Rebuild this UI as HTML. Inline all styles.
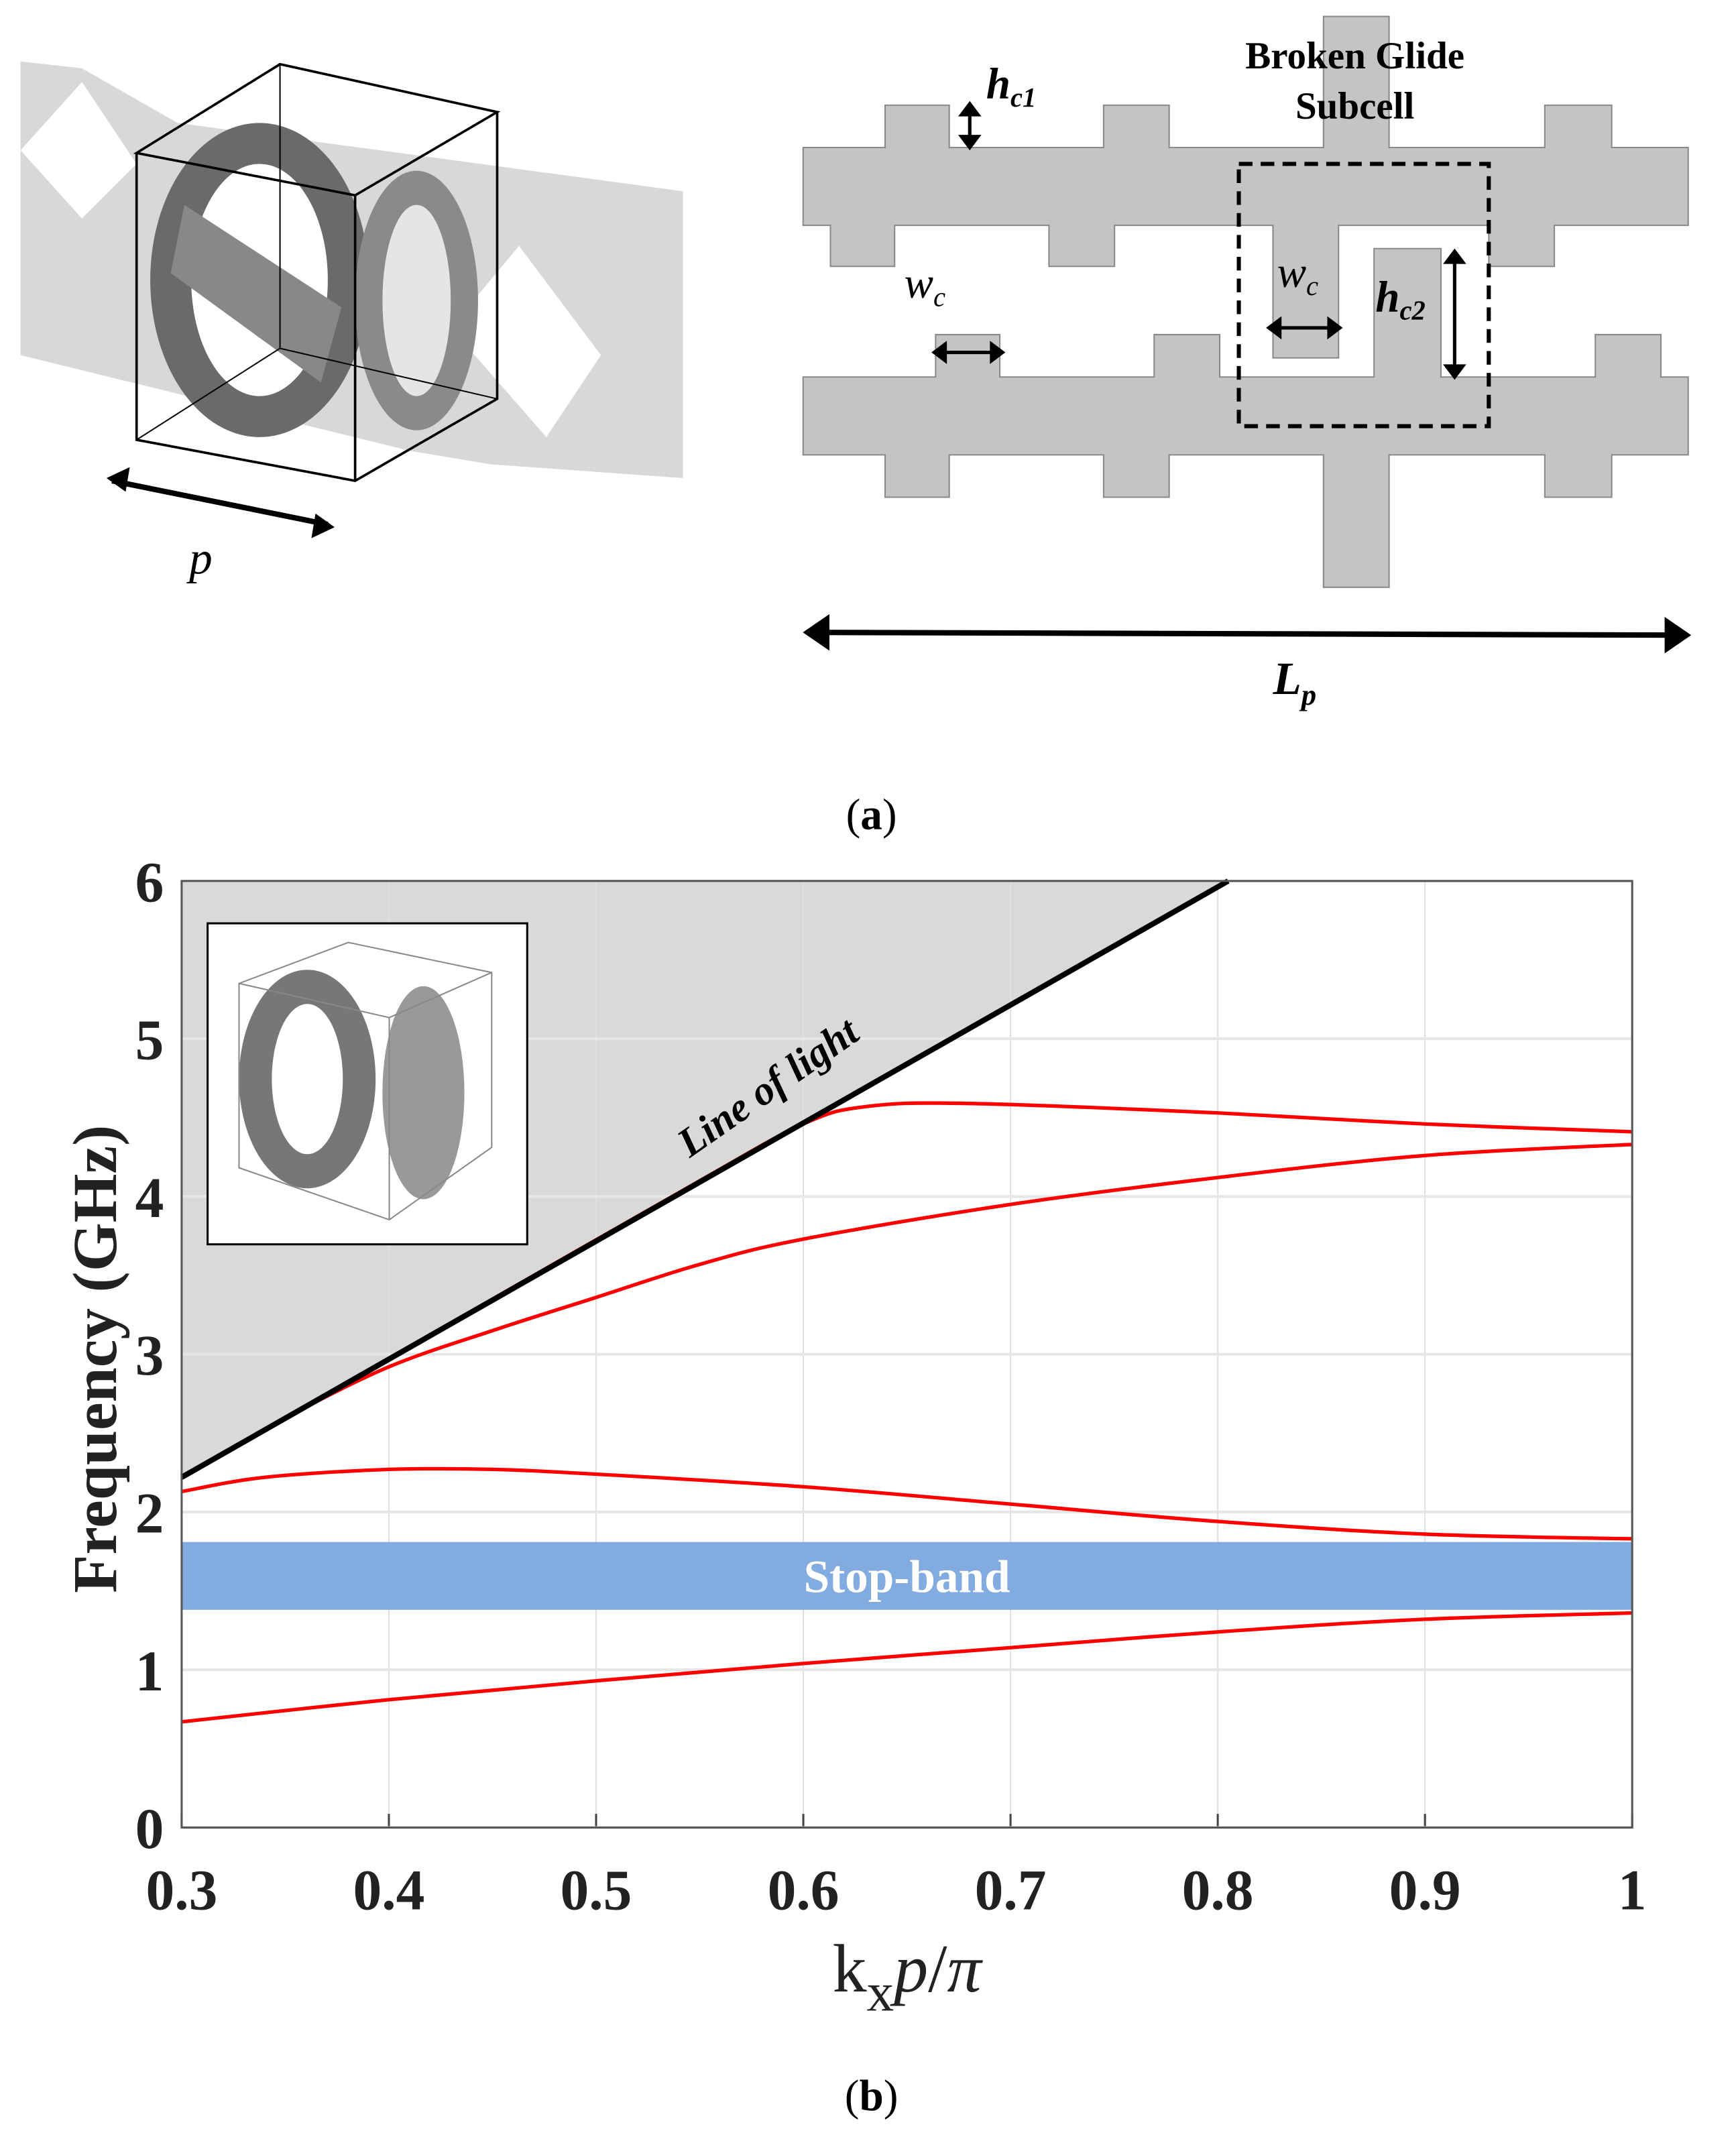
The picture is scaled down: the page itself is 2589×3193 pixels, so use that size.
<!DOCTYPE html>
<html><head><meta charset="utf-8"><style>
html,body{margin:0;padding:0;background:#fff;}
svg{display:block;}
text{font-family:"Liberation Serif",serif;}
</style></head><body>
<svg id="fig" width="2589" height="3193" viewBox="0 0 1271 1567.5" xmlns="http://www.w3.org/2000/svg">
<g>
  <path d="M15,45 L60,50 L130,90 L500,140 L500,350 L360,340 L300,330 L15,260 Z" fill="#d8d8d8"/>
  <path d="M60,60 L100,120 L60,160 L15,110 Z" fill="#fff"/>
  <path d="M380,180 L440,260 L400,320 L330,240 Z" fill="#fff"/>
  <ellipse cx="190" cy="205" rx="80" ry="115" fill="#6a6a6a"/>
  <ellipse cx="190" cy="205" rx="50" ry="85" fill="#fff"/>
  <path d="M135,150 L250,225 L235,280 L125,200 Z" fill="#888"/>
  <ellipse cx="305" cy="220" rx="45" ry="95" fill="#8a8a8a"/>
  <ellipse cx="305" cy="220" rx="25" ry="70" fill="#e5e5e5"/>
  <g fill="none" stroke="#000" stroke-width="1.8">
    <path d="M100,112 L205,47 L364,82 L260,143 Z"/>
    <path d="M100,112 L100,322 L260,352 L364,292 L364,82"/>
    <path d="M260,143 L260,352"/>
    <path d="M205,47 L205,255 L100,322" stroke-width="1"/>
    <path d="M205,255 L364,292" stroke-width="1"/>
  </g>
  <path d="M82,352 L240,384" stroke="#000" stroke-width="4"/>
  <path d="M78,350 L95,342 L92,360 Z M245,386 L228,394 L231,376 Z" fill="#000"/>
  <text x="147" y="420" font-size="34" font-style="italic" text-anchor="middle">p</text>
</g>
<g fill="#c4c4c4" stroke="#888" stroke-width="1">
  <path d="M588,108 L648,108 L648,77 L695,77 L695,108 L808,108 L808,77 L856,77 L856,108 L969,108 L969,12 L1017,12 L1017,108 L1131,108 L1131,77 L1180,77 L1180,108 L1236,108 L1236,165 L1138,165 L1138,195 L1090,195 L1090,165 L980,165 L980,262 L932,262 L932,165 L816,165 L816,195 L768,195 L768,165 L655,165 L655,195 L608,195 L608,165 L588,165 Z"/>
  <path d="M588,276 L685,276 L685,245 L732,245 L732,276 L845,276 L845,245 L893,245 L893,276 L1006,276 L1006,182 L1055,182 L1055,276 L1168,276 L1168,245 L1216,245 L1216,276 L1236,276 L1236,333 L1180,333 L1180,364 L1131,364 L1131,333 L1017,333 L1017,430 L969,430 L969,333 L856,333 L856,364 L808,364 L808,333 L695,333 L695,364 L648,364 L648,333 L588,333 Z"/>
</g>
<rect x="907" y="120" width="183" height="192" fill="none" stroke="#000" stroke-width="3" stroke-dasharray="10,6"/>
<g stroke="#000" stroke-width="2.5" fill="#000">
  <line x1="710" y1="80" x2="710" y2="104"/><path d="M704,84 L710,76 L716,84 Z M704,100 L710,108 L716,100 Z"/>
  <line x1="690" y1="258" x2="728" y2="258"/><path d="M692,252 L684,258 L692,264 Z M726,252 L734,258 L726,264 Z"/>
  <line x1="934" y1="240" x2="976" y2="240"/><path d="M937,234 L929,240 L937,246 Z M973,234 L981,240 L973,246 Z"/>
  <line x1="1065" y1="188" x2="1065" y2="272"/><path d="M1059,192 L1065,184 L1071,192 Z M1059,268 L1065,276 L1071,268 Z"/>
  <line x1="600" y1="463" x2="1228" y2="465" stroke-width="4"/><path d="M590,463 L606,452 L606,474 Z M1236,465 L1220,454 L1220,476 Z"/>
</g>
<g fill="#000">
  <text x="992" y="50" font-size="28" font-weight="bold" text-anchor="middle">Broken Glide</text>
  <text x="992" y="87" font-size="28" font-weight="bold" text-anchor="middle">Subcell</text>
  <text x="722" y="72" font-size="32" font-style="italic" font-weight="bold">h<tspan font-size="20" dy="6">c1</tspan></text>
  <text x="662" y="218" font-size="32" font-style="italic">w<tspan font-size="20" dy="6">c</tspan></text>
  <text x="935" y="210" font-size="32" font-style="italic">w<tspan font-size="20" dy="6">c</tspan></text>
  <text x="1007" y="228" font-size="32" font-style="italic" font-weight="bold">h<tspan font-size="20" dy="6">c2</tspan></text>
  <text x="932" y="508" font-size="34" font-style="italic" font-weight="bold">L<tspan font-size="22" dy="8">p</tspan></text>
  <text x="638" y="607" font-size="32" text-anchor="middle">(<tspan font-weight="bold">a</tspan>)</text>
  <text x="638" y="1545" font-size="32" text-anchor="middle">(<tspan font-weight="bold">b</tspan>)</text>
</g>
<g id="chart"></g>
</svg>
<script>
const xTicks = [0.3,0.4,0.5,0.6,0.7,0.8,0.9,1];
const xTickLabels = ["0.3","0.4","0.5","0.6","0.7","0.8","0.9","1"];
const yTicks = [0,1,2,3,4,5,6];
const lightK = [0.3, 0.805];
const lightF = [2.22, 6.0];
const stopBand = [1.38, 1.81];
const band1K = [0.3,0.4,0.5,0.6,0.7,0.8,0.9,1.0];
const band1F = [0.67,0.81,0.93,1.04,1.14,1.24,1.32,1.36];
const band2K = [0.3,0.34,0.4,0.45,0.5,0.6,0.7,0.8,0.9,1.0];
const band2F = [2.13,2.22,2.27,2.27,2.24,2.16,2.05,1.94,1.86,1.83];
const band3K = [0.35,0.4,0.45,0.5,0.55,0.6,0.7,0.8,0.9,1.0];
const band3F = [2.6,2.92,3.15,3.36,3.57,3.73,3.95,4.12,4.26,4.33];
const band4K = [0.35,0.45,0.55,0.6,0.63,0.68,0.8,0.9,1.0];
const band4F = [2.6,3.35,4.1,4.46,4.57,4.59,4.53,4.46,4.41];

const X0=133, X1=1195, Y0=1338, Y1=645;
const xs = k => X0 + (k-0.3)/(1-0.3)*(X1-X0);
const ys = f => Y0 - f/6*(Y0-Y1);
const NS="http://www.w3.org/2000/svg";
const g=document.getElementById('chart');
function mk(tag, attrs){const e=document.createElementNS(NS,tag);for(const k in attrs)e.setAttribute(k,attrs[k]);g.appendChild(e);return e;}
function smooth(P){
  let d=`M${P[0][0].toFixed(1)},${P[0][1].toFixed(1)}`;
  for(let i=0;i<P.length-1;i++){
    const p0=P[Math.max(0,i-1)],p1=P[i],p2=P[i+1],p3=P[Math.min(P.length-1,i+2)];
    const c1=[p1[0]+(p2[0]-p0[0])/6,p1[1]+(p2[1]-p0[1])/6];
    const c2=[p2[0]-(p3[0]-p1[0])/6,p2[1]-(p3[1]-p1[1])/6];
    d+=` C${c1[0].toFixed(1)},${c1[1].toFixed(1)} ${c2[0].toFixed(1)},${c2[1].toFixed(1)} ${p2[0].toFixed(1)},${p2[1].toFixed(1)}`;
  }
  return d;
}

const lf = mk('path',{d:`M${xs(lightK[0])},${ys(lightF[0])} L${xs(lightK[1])},${ys(lightF[1])} L${X0},${Y1} Z`,fill:'#d9d9d9'});


xTicks.forEach((t,i)=>{
  const l=mk('line',{x1:xs(t),x2:xs(t),y1:Y0,y2:Y1,stroke:'#e0e0e0','stroke-width':1});
  
  
  const tk=mk('line',{x1:xs(t),x2:xs(t),y1:Y0,y2:Y0-10,stroke:'#444','stroke-width':1.5});
  
  
  const tx=mk('text',{x:xs(t),y:1398,'font-size':42,'font-weight':'bold','text-anchor':'middle',fill:'#222'});
  tx.textContent=xTickLabels[i];
  
  
});
yTicks.forEach(t=>{
  const l=mk('line',{x1:X0,x2:X1,y1:ys(t),y2:ys(t),stroke:'#e6e6e6','stroke-width':2});
  
  
  const tx=mk('text',{x:120,y:ys(t)+15,'font-size':42,'font-weight':'bold','text-anchor':'end',fill:'#222'});
  tx.textContent=String(t);
  
  
});
const sb=mk('rect',{x:X0,y:ys(stopBand[1]),width:X1-X0,height:ys(stopBand[0])-ys(stopBand[1]),fill:'#82ace0'});


const sbt=mk('text',{x:(X0+X1)/2,y:(ys(stopBand[0])+ys(stopBand[1]))/2+12,'font-size':34,'font-weight':'bold','text-anchor':'middle',fill:'#fff'});
sbt.textContent='Stop-band';


[[band1K,band1F,'band-1'],[band2K,band2F,'band-2'],[band3K,band3F,'band-3'],[band4K,band4F,'band-4']].forEach(([K,F,n])=>{
  const P=K.map((k,i)=>[xs(k),ys(F[i])]);
  const p=mk('path',{d:smooth(P),fill:'none',stroke:'#f00','stroke-width':2.6,'stroke-linejoin':'round'});
  
  
});
const ll=mk('line',{x1:xs(lightK[0]),y1:ys(lightF[0]),x2:xs(lightK[1]),y2:ys(lightF[1]),stroke:'#000','stroke-width':4});


const lt=mk('text',{x:0,y:0,'font-size':30,'font-weight':'bold','font-style':'italic',fill:'#000',transform:`translate(505,848) rotate(-35)`});
lt.textContent='Line of light';


const bx=mk('rect',{x:X0,y:Y1,width:X1-X0,height:Y0-Y1,fill:'none',stroke:'#555','stroke-width':1.5});


const ib=mk('rect',{x:152,y:676,width:234,height:235,fill:'#fff',stroke:'#000','stroke-width':1.5});


const ie=mk('ellipse',{cx:225,cy:790,rx:50,ry:80,fill:'#777'});


const ie2=mk('ellipse',{cx:225,cy:790,rx:26,ry:55,fill:'#fff'});


const ie3=mk('ellipse',{cx:310,cy:800,rx:30,ry:78,fill:'#999'});


const ic=mk('path',{d:'M175,720 L255,690 L360,712 L360,840 L285,893 L175,855 Z M175,720 L285,745 L360,712 M285,745 L285,893',fill:'none',stroke:'#888','stroke-width':1});


const yt=mk('text',{x:0,y:0,'font-size':46,'font-weight':'bold','text-anchor':'middle',fill:'#222',transform:'translate(85,995) rotate(-90)'});
yt.textContent='Frequency (GHz)';


const xt=mk('text',{x:664,y:1458,'font-size':50,'text-anchor':'middle',fill:'#222'});
xt.innerHTML='k<tspan font-size="40" dy="14">x</tspan><tspan dy="-14" font-style="italic">p</tspan>/<tspan font-style="italic">π</tspan>';


</script>
</body></html>
